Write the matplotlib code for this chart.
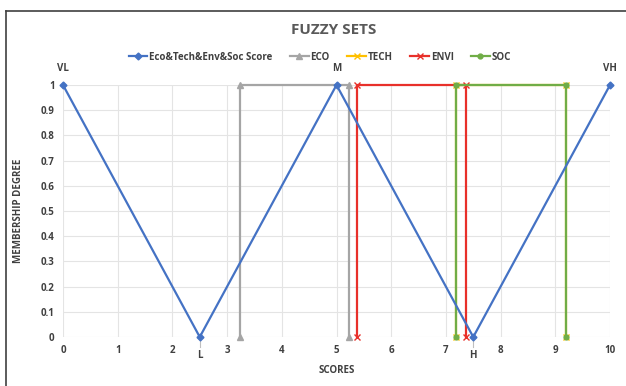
import matplotlib
matplotlib.use("Agg")
import matplotlib.pyplot as plt
from matplotlib.lines import Line2D

plt.rcParams['font.family'] = ['Open Sans', 'DejaVu Sans']

# Data
score_x = [0, 2.5, 5, 7.5, 10]
score_y = [1, 0, 1, 0, 1]
score_labels = ["VL", "L", "M", "H", "VH"]

eco_x = [3.24, 3.24, 5.23, 5.23]
eco_y = [0, 1, 1, 0]
tech_x = [7.18, 7.18, 9.2, 9.2]
tech_y = [0, 1, 1, 0]
envi_x = [5.37, 5.37, 7.37, 7.37]
envi_y = [0, 1, 1, 0]
soc_x = [7.18, 7.18, 9.2, 9.2]
soc_y = [0, 1, 1, 0]

x_ticks = list(range(0, 11))
y_ticks = [0, 0.1, 0.2, 0.3, 0.4, 0.5, 0.6, 0.7, 0.8, 0.9, 1]
y_tick_labels = ["0", "0.1", "0.2", "0.3", "0.4", "0.5", "0.6", "0.7", "0.8", "0.9", "1"]

W, H = 626, 386
fig = plt.figure(figsize=(W/100, H/100), dpi=100)
ax = fig.add_axes([63/W, 1-337/H, (610-63)/W, (337-85)/H])

txt = '#404040'
lw = 1.6
ax.plot(score_x, score_y, color='#4472C4', lw=lw, marker='D', ms=3.5,
        label='Eco&Tech&Env&Soc Score', zorder=5, clip_on=False)
ax.plot(eco_x, eco_y, color='#A5A5A5', lw=lw, marker='^', ms=4.5, label='ECO', zorder=3, clip_on=False)
ax.plot(tech_x, tech_y, color='#FFC000', lw=lw, marker='x', ms=4.5, label='TECH', zorder=2, clip_on=False)
ax.plot(envi_x, envi_y, color='#E8302A', lw=lw, marker='x', ms=4.5, label='ENVI', zorder=3, clip_on=False)
ax.plot(soc_x, soc_y, color='#70AD47', lw=lw, marker='o', ms=3.5, label='SOC', zorder=4, clip_on=False)

for x, y, lab in zip(score_x, score_y, score_labels):
    if y >= 0.5:
        ax.annotate(lab, (x, y), xytext=(0, 8), textcoords='offset points',
                    ha='center', va='bottom', fontsize=7, fontweight='bold', color=txt)
    else:
        ax.plot([x, x], [-0.01, -0.04], color='#BFBFBF', lw=0.8, clip_on=False)
        ax.annotate(lab, (x, y), xytext=(0, -9), textcoords='offset points',
                    ha='center', va='top', fontsize=7, fontweight='bold', color=txt)

ax.set_xlim(0, 10)
ax.set_ylim(0, 1)
ax.set_xticks(x_ticks)
ax.set_yticks(y_ticks)
ax.set_yticklabels(y_tick_labels)
ax.grid(True, color='#E4E4E4', lw=0.8)
ax.set_axisbelow(True)
for s in ax.spines.values():
    s.set_visible(False)
ax.tick_params(length=0, labelsize=7, labelcolor=txt, pad=6)
for t in ax.get_xticklabels() + ax.get_yticklabels():
    t.set_fontweight('bold')
ax.set_xlabel('SCORES', fontsize=7, fontweight='bold', color=txt, labelpad=6)
ax.set_ylabel('MEMBERSHIP DEGREE', fontsize=7, fontweight='bold', color=txt, labelpad=12)

fig.text(334/W, 1-30/H, 'FUZZY SETS', ha='center', va='center', fontsize=11,
         fontweight='bold', color='#595959')
leg = ax.legend(loc='center', bbox_to_anchor=(320/W, 1-57/H),
                bbox_transform=fig.transFigure, ncol=5,
                frameon=False, fontsize=7, handlelength=1.9, columnspacing=1.8,
                handletextpad=0.2)
for t in leg.get_texts():
    t.set_fontweight('bold')
    t.set_color(txt)

fig.add_artist(Line2D([6/W, 6/W], [0, 1-11/H], color='#404040', lw=1.2))
fig.add_artist(Line2D([6/W, 1], [1-11/H, 1-11/H], color='#404040', lw=1.2))

fig.savefig('out.png', dpi=100)
